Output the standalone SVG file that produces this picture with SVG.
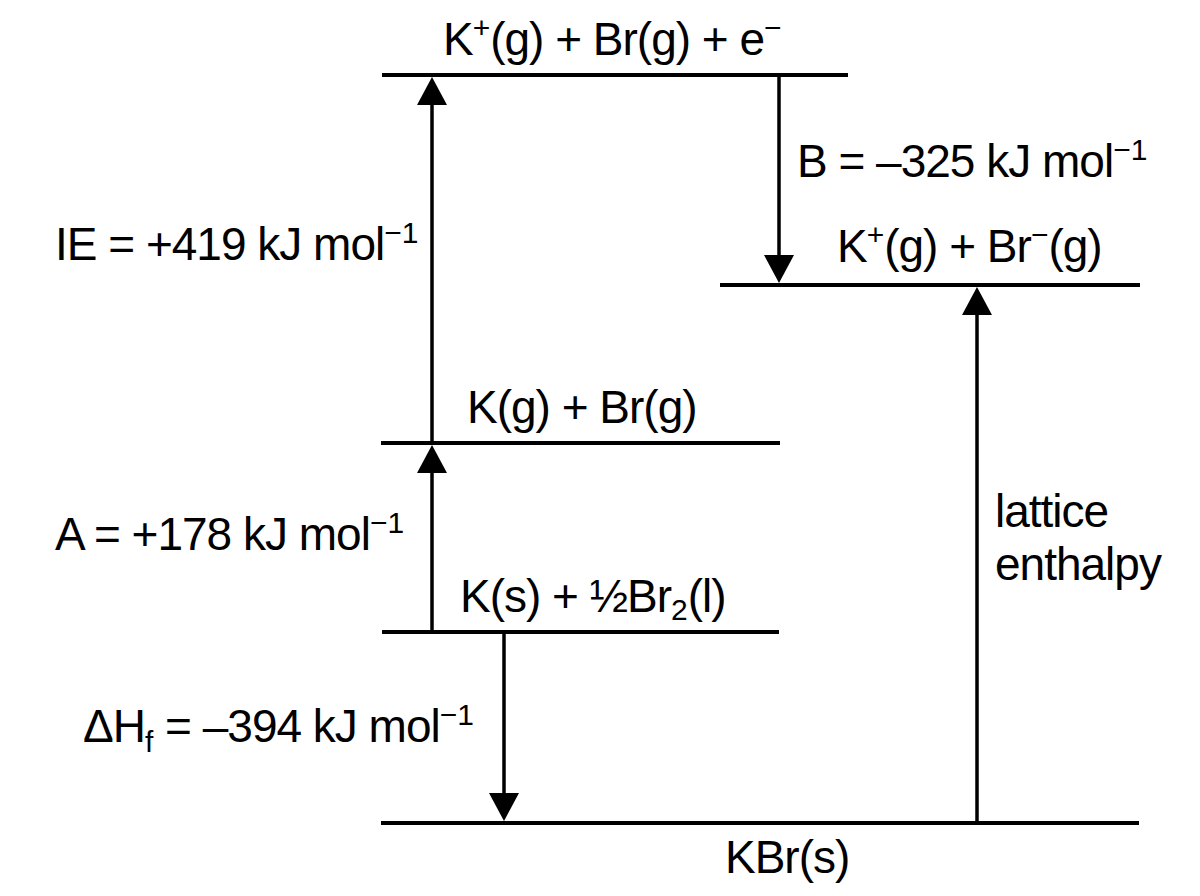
<svg xmlns="http://www.w3.org/2000/svg" width="1200" height="896" viewBox="0 0 1200 896">
  <defs>
    <style>
      .lvl { stroke: #000; stroke-width: 4; fill: none; }
      .arr { stroke: #000; stroke-width: 3.5; fill: none; marker-end: url(#head); }
      text { font-family: "Liberation Sans", Arial, sans-serif; font-size: 46px; letter-spacing: -1px; fill: #000; }
      .sup { font-size: 30px; letter-spacing: 0; }
    </style>
    <marker id="head" markerUnits="userSpaceOnUse" viewBox="0 0 28 30" refX="8" refY="15" markerWidth="28" markerHeight="30" orient="auto">
      <path d="M0,0 L28,15 L0,30 Z" fill="#000"/>
    </marker>
  </defs>
  <rect width="1200" height="896" fill="#fff"/>

  <g id="level-top">
    <line class="lvl" x1="382" y1="75" x2="848" y2="75"/>
    <text x="443" y="55">K<tspan class="sup" dy="-17">+</tspan><tspan dy="17">(g) + Br(g) + e</tspan><tspan class="sup" dy="-17">−</tspan></text>
  </g>
  <g id="level-ions">
    <line class="lvl" x1="720" y1="285" x2="1140" y2="285"/>
    <text x="837" y="262">K<tspan class="sup" dy="-17">+</tspan><tspan dy="17">(g) + Br</tspan><tspan class="sup" dy="-17">−</tspan><tspan dy="17">(g)</tspan></text>
  </g>
  <g id="level-gas">
    <line class="lvl" x1="381" y1="443" x2="780" y2="443"/>
    <text x="467" y="423">K(g) + Br(g)</text>
  </g>
  <g id="level-elements">
    <line class="lvl" x1="382" y1="632" x2="779" y2="632"/>
    <text x="460" y="612">K(s) + ½Br<tspan class="sup" dy="8">2</tspan><tspan dy="-8">(l)</tspan></text>
  </g>
  <g id="level-kbr">
    <line class="lvl" x1="381" y1="823" x2="1139" y2="823"/>
    <text x="725" y="873">KBr(s)</text>
  </g>

  <g id="connectors">
    <line class="arr" x1="432" y1="443" x2="432" y2="97"/>
    <line class="arr" x1="432" y1="632" x2="432" y2="465"/>
    <line class="arr" x1="779" y1="75" x2="779" y2="263"/>
    <line class="arr" x1="504" y1="632" x2="504" y2="801"/>
    <line class="arr" x1="977" y1="823" x2="977" y2="307"/>
  </g>

  <g id="labels">
    <text x="55" y="260">IE = +419 kJ mol<tspan class="sup" dy="-17">−1</tspan></text>
    <text x="55" y="550">A = +178 kJ mol<tspan class="sup" dy="-17">−1</tspan></text>
    <text x="797" y="177">B = –325 kJ mol<tspan class="sup" dy="-17">−1</tspan></text>
    <text x="83" y="742">ΔH<tspan class="sup" dy="10">f</tspan><tspan dy="-10"> = –394 kJ mol</tspan><tspan class="sup" dy="-17">−1</tspan></text>
    <text x="995" y="527">lattice</text>
    <text x="995" y="580">enthalpy</text>
  </g>
</svg>
